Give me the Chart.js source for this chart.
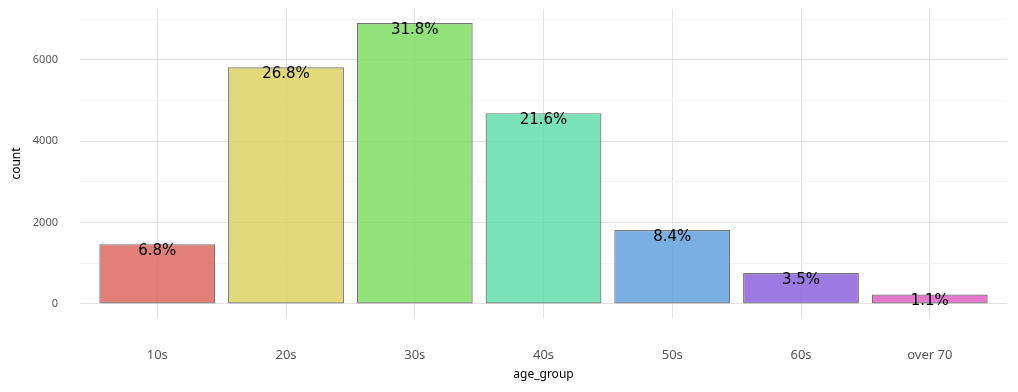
<!DOCTYPE html>
<html>
<head>
<meta charset="utf-8">
<script src="https://cdn.jsdelivr.net/npm/chart.js@4.4.1/dist/chart.umd.min.js"></script>
<style>
  html, body { margin: 0; padding: 0; background: #ffffff; }
  #wrap { width: 1018px; height: 392px; position: relative; }
</style>
</head>
<body>
<div id="wrap"><canvas id="c"></canvas></div>
<script>
const categories = ['10s', '20s', '30s', '40s', '50s', '60s', 'over 70'];
const counts = [1470, 5820, 6905, 4690, 1815, 762, 232];
const yTicks = [0, 1000, 2000, 3000, 4000, 5000, 6000, 7000];
const barColors = [
  'rgba(219,95,87,0.8)',
  'rgba(219,208,87,0.8)',
  'rgba(117,219,87,0.8)',
  'rgba(87,219,170,0.8)',
  'rgba(87,155,219,0.8)',
  'rgba(132,87,219,0.8)',
  'rgba(219,87,192,0.8)'
];

const total = counts.reduce((a, b) => a + b, 0);
const pctLabels = counts.map(v => (v / total * 100).toFixed(1) + '%');

const maxVal = Math.max(...counts);
const yPad = maxVal * 0.05;

const pctPlugin = {
  id: 'pctLabels',
  afterDatasetsDraw(chart) {
    const ctx = chart.ctx;
    const meta = chart.getDatasetMeta(0);
    ctx.save();
    ctx.fillStyle = '#000000';
    ctx.font = '15px "DejaVu Sans"';
    ctx.textAlign = 'center';
    ctx.textBaseline = 'middle';
    meta.data.forEach((bar, i) => {
      ctx.fillText(pctLabels[i], bar.x, bar.y + 7);
    });
    ctx.restore();
  }
};

new Chart(document.getElementById('c'), {
  type: 'bar',
  data: {
    datasets: [{
      data: counts.map((v, i) => ({ x: i, y: v })),
      backgroundColor: barColors,
      borderColor: '#767676',
      borderWidth: 1.2,
      borderSkipped: false,
      barPercentage: 0.9,
      categoryPercentage: 1.0
    }]
  },
  options: {
    responsive: true,
    maintainAspectRatio: false,
    animation: false,
    layout: { padding: { top: 9, right: 11, left: 0, bottom: 0 } },
    plugins: {
      legend: { display: false },
      tooltip: { enabled: false }
    },
    scales: {
      x: {
        type: 'linear',
        offset: false,
        min: -0.6,
        max: categories.length - 1 + 0.6,
        afterBuildTicks(scale) {
          scale.ticks = categories.map((_, i) => ({ value: i }));
        },
        afterFit(scale) {
          scale.height = 74;
          scale.paddingLeft = 0;
          scale.paddingRight = 0;
        },
        border: { display: false },
        grid: { color: '#e3e3e3', lineWidth: 1, drawTicks: false, offset: false },
        ticks: {
          padding: 29,
          maxRotation: 0,
          autoSkip: false,
          color: '#555555',
          font: { family: '"Noto Sans", sans-serif', size: 13 },
          callback: (v) => categories[v] !== undefined ? categories[v] : ''
        },
        title: {
          display: true,
          text: 'age_group',
          color: '#000000',
          font: { family: '"Noto Sans", sans-serif', size: 12 },
          padding: { top: 0, bottom: 10 }
        }
      },
      y: {
        type: 'linear',
        min: -yPad,
        max: maxVal + yPad,
        afterBuildTicks(scale) {
          scale.ticks = yTicks.map(v => ({ value: v }));
        },
        afterFit(scale) {
          scale.width = 80;
          scale.paddingTop = 0;
          scale.paddingBottom = 0;
        },
        border: { display: false },
        grid: {
          drawTicks: false,
          lineWidth: 1,
          color: (c) => (c.tick && c.tick.value % 2000 === 0) ? '#e3e3e3' : '#f4f4f4'
        },
        ticks: {
          padding: 22,
          color: '#555555',
          font: { family: '"Noto Sans", sans-serif', size: 11 },
          callback: (v) => (v % 2000 === 0 ? String(v) : '')
        },
        title: {
          display: true,
          text: 'count',
          color: '#000000',
          font: { family: '"Noto Sans", sans-serif', size: 12 },
          padding: { top: 9, bottom: 0 }
        }
      }
    }
  },
  plugins: [pctPlugin]
});
</script>
</body>
</html>
